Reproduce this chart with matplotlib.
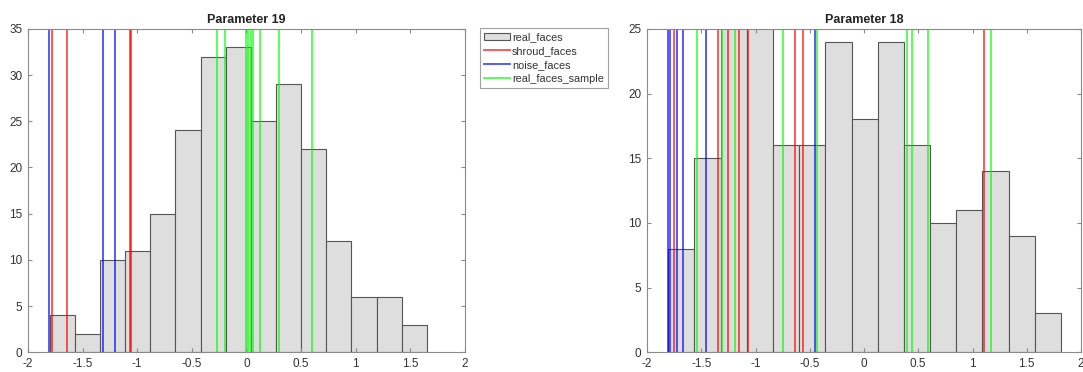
import matplotlib.pyplot as plt
import numpy as np
from matplotlib.patches import Patch
from matplotlib.lines import Line2D

plt.rcParams['font.family'] = ['Liberation Sans', 'DejaVu Sans']

# Parameter 19
p19_edges = np.linspace(-1.80, 1.65, 16)
p19_counts = [4, 2, 10, 11, 15, 24, 32, 33, 25, 29, 22, 12, 6, 6, 3]
p19_shroud = [-1.78, -1.646, -1.07, -1.055]
p19_noise = [-1.805, -1.313, -1.204]
p19_sample = [-0.27, -0.195, -0.005, 0.01, 0.04, 0.055, 0.125, 0.297, 0.602]

# Parameter 18
p18_edges = np.linspace(-1.804, 1.816, 16)
p18_counts = [8, 15, 27, 26, 16, 16, 24, 18, 24, 16, 10, 11, 14, 9, 3]
p18_shroud = [-1.748, -1.343, -1.25, -1.152, -1.066, -0.636, -0.565, 1.106]
p18_noise = [-1.804, -1.785, -1.72, -1.671, -1.459, -0.452]
p18_sample = [-1.536, -1.312, -1.189, -0.744, -0.43, 0.393, 0.44, 0.593, 1.168]

W, H = 1083, 372
fig = plt.figure(figsize=(W / 100, H / 100), dpi=100)

face = '#dedede'
edge = '#555555'
spine = '#8a8a8a'
txt = '#333333'


def draw(ax, edges, counts, shroud, noise, sample, ymax, title):
    ax.bar(edges[:-1], counts, width=np.diff(edges), align='edge',
           color=face, edgecolor=edge, linewidth=0.8, zorder=1)
    for v in shroud:
        ax.axvline(v, color=(1, 0, 0), alpha=0.65, lw=1.4, zorder=2)
    for v in noise:
        ax.axvline(v, color=(0, 0, 1), alpha=0.65, lw=1.4, zorder=2)
    for v in sample:
        ax.axvline(v, color=(0, 1, 0), alpha=0.65, lw=1.4, zorder=2)
    ax.set_xlim(-2, 2)
    ax.set_ylim(0, ymax)
    ax.set_xticks(np.arange(-2, 2.01, 0.5))
    ax.set_xticklabels(['-2', '-1.5', '-1', '-0.5', '0', '0.5', '1', '1.5', '2'])
    ax.set_yticks(np.arange(0, ymax + 1, 5))
    ax.tick_params(direction='in', top=True, right=True, length=3,
                   width=0.8, color=spine, labelsize=8.5, labelcolor=txt, pad=4)
    for s in ax.spines.values():
        s.set_color(spine)
        s.set_linewidth(0.8)
    ax.set_title(title, fontsize=9, fontweight='bold', color='#222222', pad=4)


ax1 = fig.add_axes([28 / W, (H - 352.3) / H, 437 / W, 323.5 / H])
draw(ax1, p19_edges, p19_counts, p19_shroud, p19_noise, p19_sample, 35, 'Parameter 19')

ax2 = fig.add_axes([647 / W, (H - 352.3) / H, 434 / W, 323.5 / H])
draw(ax2, p18_edges, p18_counts, p18_shroud, p18_noise, p18_sample, 25, 'Parameter 18')

handles = [Patch(facecolor=face, edgecolor=edge, linewidth=0.8),
           Line2D([], [], color=(1, 0, 0), alpha=0.65, lw=1.4),
           Line2D([], [], color=(0, 0, 1), alpha=0.65, lw=1.4),
           Line2D([], [], color=(0, 1, 0), alpha=0.65, lw=1.4)]
labels = ['real_faces', 'shroud_faces', 'noise_faces', 'real_faces_sample']
leg = fig.legend(handles, labels, loc='upper left',
                 bbox_to_anchor=(480 / W, 1 - 28.3 / H), fontsize=7.8,
                 frameon=True, fancybox=False, handlelength=2.4,
                 handletextpad=0.2, borderpad=0.35, labelspacing=0.36,
                 borderaxespad=0)
leg.get_frame().set_edgecolor(spine)
leg.get_frame().set_linewidth(0.8)
for t in leg.get_texts():
    t.set_color(txt)

fig.savefig('out.png', dpi=100)
